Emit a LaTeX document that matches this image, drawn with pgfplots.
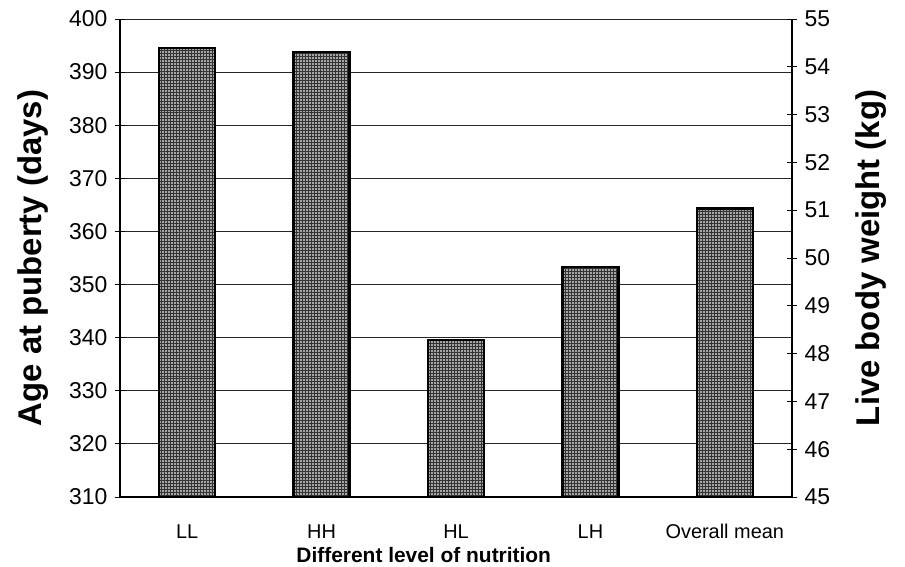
\documentclass[border=0pt]{standalone}
\usepackage{fontspec}
\setmainfont{Liberation Sans}
\usepackage{pgfplots}
\pgfplotsset{compat=1.18}
\usetikzlibrary{patterns}
\begin{document}
\begin{tikzpicture}
\begin{axis}[
  name=main,
  width=672bp, height=478bp, scale only axis,
  xmin=-0.5, xmax=4.5, ymin=310, ymax=400,
  axis x line*=bottom, axis y line*=left,
  axis line style={line width=1.6bp, black},
  ytick={310,320,...,400},
  ymajorgrids, grid style={line width=0.9bp, black!85},
  xtick={0,1,2,3,4},
  xticklabels={LL,HH,HL,LH,Overall mean},
  x tick style={draw=none},
  extra x ticks={-0.5,0.5,1.5,2.5,3.5,4.5},
  extra x tick labels={},
  extra x tick style={tick style={draw=black, line width=0.8bp}, major tick length=6bp, tick align=outside, grid=none},
  tick align=center, major tick length=10bp,
  y tick style={line width=0.8bp, black},
  /pgf/number format/assume math mode=true,
  yticklabel style={font=\fontsize{23}{25}\selectfont, xshift=-4bp},
  xticklabel style={font=\fontsize{20}{22}\selectfont, anchor=base, yshift=-37bp},
  ylabel={\textbf{Age at puberty (days)}},
  ylabel style={font=\fontsize{33}{35}\selectfont, at={(axis description cs:-0.13,0.5)}, anchor=center},
  xlabel={\textbf{Different level of nutrition}},
  xlabel style={font=\fontsize{21}{23}\selectfont, at={(axis description cs:0.452,-0.138)}, anchor=base},
]
\addplot[ybar, bar width=56bp, draw=black, line width=2.4bp, fill=black!35,
  postaction={pattern=grid, pattern color=black!80}]
  coordinates {(0,394.5) (1,393.8) (2,339.6) (3,353.3) (4,364.3)};
\end{axis}
\begin{axis}[
  width=672bp, height=478bp, scale only axis,
  xmin=-0.5, xmax=4.5, ymin=45, ymax=55,
  axis x line=none, axis y line*=right,
  axis line style={line width=1.6bp, black},
  ytick={45,46,...,55},
  tick align=center, major tick length=10bp,
  y tick style={line width=0.8bp, black},
  /pgf/number format/assume math mode=true,
  yticklabel style={font=\fontsize{23}{25}\selectfont, xshift=4bp},
  ylabel={\textbf{Live body weight (kg)}},
  ylabel style={font=\fontsize{33}{35}\selectfont, at={(axis description cs:1.118,0.5)}, anchor=center},
]
\addplot[draw=none] coordinates {(0,45)};
\end{axis}
\pgfresetboundingbox
\useasboundingbox ([shift={(-120bp,-70bp)}]main.south west) rectangle ([shift={(113bp,19bp)}]main.north east);
\end{tikzpicture}
\end{document}
